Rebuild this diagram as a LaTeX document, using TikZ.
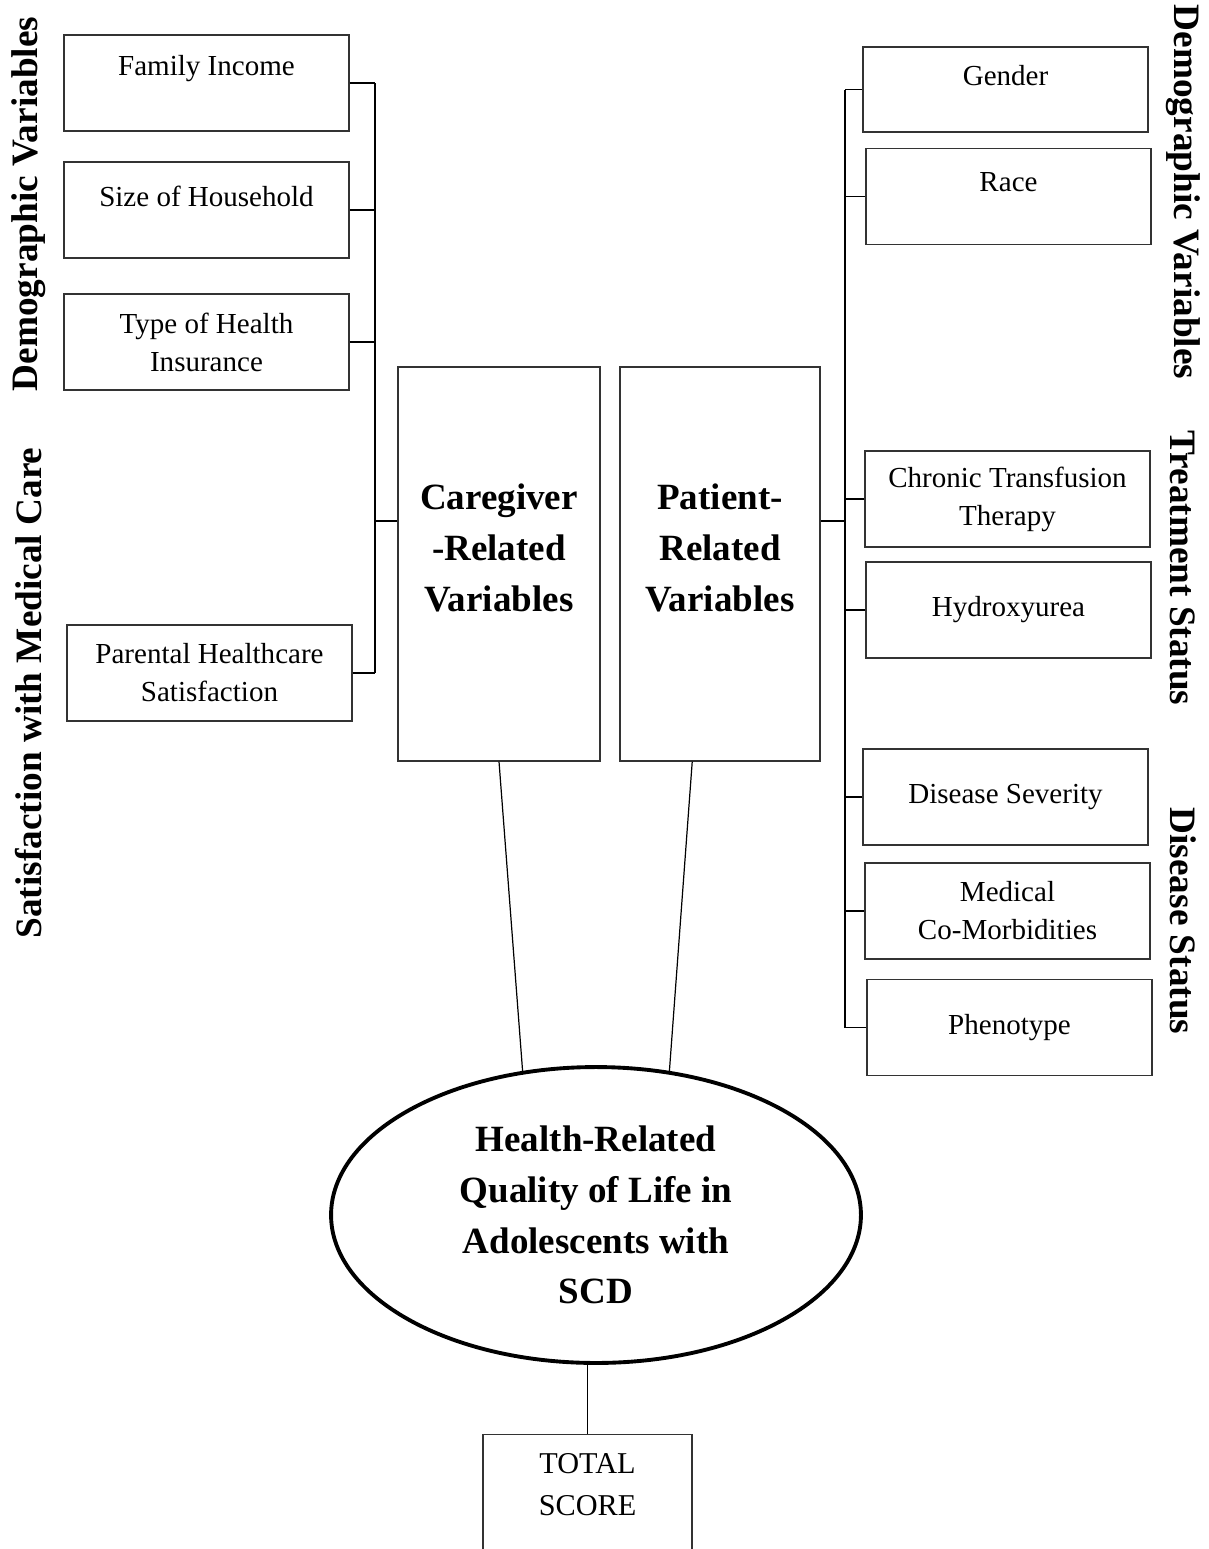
\documentclass[tikz,border=0pt]{standalone}
\usepackage{fontspec}
\setmainfont{Liberation Serif}
\usetikzlibrary{shapes.geometric, positioning}
\newcommand{\boxfont}{\fontsize{12}{15.7}\selectfont}
\newcommand{\totalfont}{\fontsize{12.5}{17.4}\selectfont}
\newcommand{\bigbold}{\fontsize{15.3}{21}\selectfont\bfseries}
\newcommand{\sidelabelfont}{\fontsize{15.4}{18}\selectfont\bfseries}

\begin{document}
\begin{tikzpicture}[x=0.4133pt, y=-0.4133pt,
  varbox/.style={draw=black!80, line width=0.5pt, minimum width=117.8pt, minimum height=39.7pt, align=center, font=\boxfont},
  toptext/.style={label={[font=\boxfont, yshift=5.8pt]center:#1}},
  mainbox/.style={draw=black!80, line width=0.5pt, minimum height=162.8pt},
  maintext/.style={label={[font=\bigbold, align=center, yshift=6.6pt]center:#1}},
  sidelabel/.style={font=\sidelabelfont},
  bus/.style={line width=0.7pt},
  link/.style={line width=0.5pt}]
\useasboundingbox (0,0) rectangle (1209,1549);
% Side headings
\node[sidelabel, rotate=90] (demoleft) at (29,204) {Demographic Variables};
\node[sidelabel, rotate=90] (satisfaction) at (29,693) {Satisfaction with Medical Care};
\node[sidelabel, rotate=-90] (demoright) at (1183,192) {Demographic Variables};
\node[sidelabel, rotate=-90] (treatment) at (1183,568) {Treatment Status};
\node[sidelabel, rotate=-90] (disease) at (1183,921) {Disease Status};
% Caregiver variables
\node[varbox, toptext={Family Income}] (income) at (206.5,83) {};
\node[varbox, toptext={Size of Household}] (household) at (206.5,210) {};
\node[varbox] (insurance) at (206.5,342) {Type of Health\\Insurance};
\node[varbox] (parental) at (209.5,673) {Parental Healthcare\\Satisfaction};
% Middle boxes
\node[mainbox, minimum width=83.5pt, maintext={Caregiver\\-Related\\Variables}] (care) at (499,564) {};
\node[mainbox, minimum width=82.7pt, maintext={Patient-\\Related\\Variables}] (patient) at (720,564) {};
% Patient variables
\node[varbox, minimum height=35.1pt, toptext={Gender}] (gender) at (1005.5,89.5) {};
\node[varbox, toptext={Race}] (race) at (1008.5,196.5) {};
\node[varbox] (transfusion) at (1007.5,499) {Chronic Transfusion\\Therapy};
\node[varbox] (hydroxyurea) at (1008.5,610) {Hydroxyurea};
\node[varbox] (severity) at (1005.5,797) {Disease Severity};
\node[varbox] (comorbid) at (1007.5,911) {Medical\\Co-Morbidities};
\node[varbox] (phenotype) at (1009.5,1027.5) {Phenotype};
% Outcome
\node[ellipse, draw, line width=1.6pt, minimum width=219pt, minimum height=122.3pt, align=center, font=\bigbold] (hrql) at (596,1215) {Health-Related\\Quality of Life in\\Adolescents with\\SCD};
\node[varbox, minimum width=86.4pt, minimum height=82.7pt, anchor=north,
  label={[font=\totalfont, align=center, anchor=north, inner sep=0pt, yshift=-7.9pt]north:TOTAL\\SCORE}] (total) at (587.5,1434) {};
% Brackets
\coordinate (lbus) at (375,521);
\coordinate (rbus) at (845,521);
\foreach \b in {income,household,insurance,parental}
  \draw[bus] (\b.east) -- (\b.east -| lbus);
\draw[bus] (income.east -| lbus) -- (parental.east -| lbus);
\draw[bus] (lbus) -- (lbus -| care.west);
\foreach \b in {gender,race,transfusion,hydroxyurea,severity,comorbid,phenotype}
  \draw[bus] (\b.west) -- (\b.west -| rbus);
\draw[bus] (gender.west -| rbus) -- (phenotype.west -| rbus);
\draw[bus] (rbus) -- (rbus -| patient.east);
% Links to outcome
\draw[link] (care.south) -- (hrql.117);
\draw[link] (patient.262) -- (hrql.63);
\draw[link] (total.north) -- (total.north |- hrql.south);
\end{tikzpicture}
\end{document}
